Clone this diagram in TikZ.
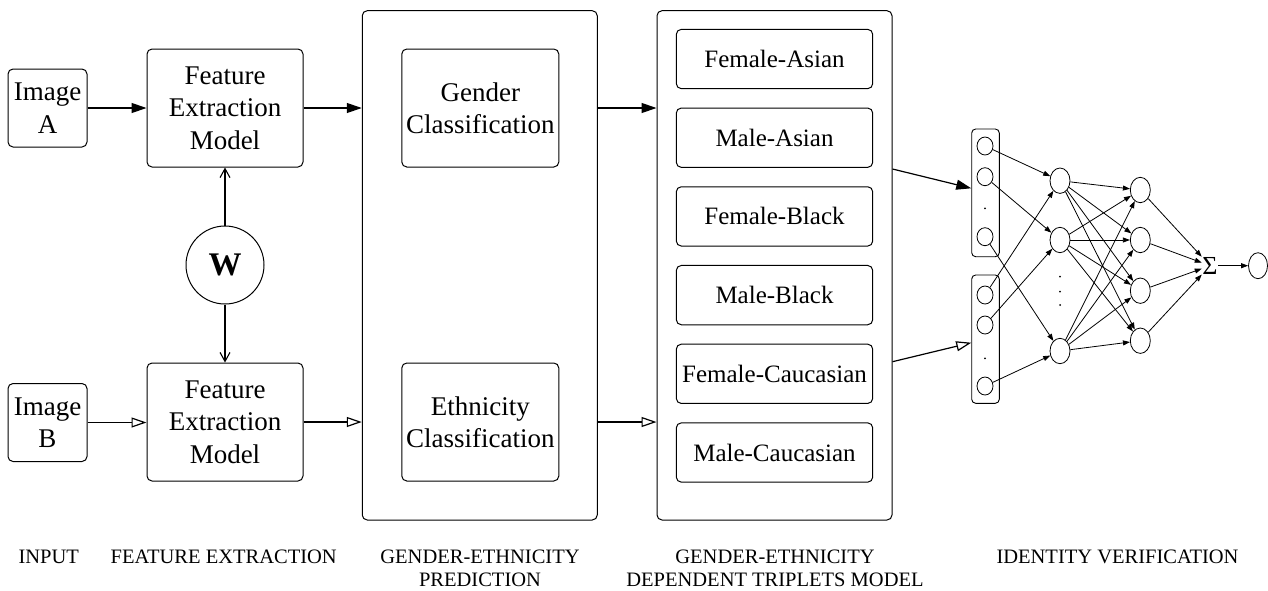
\documentclass[tikz,border=0pt]{standalone}
\usepackage{fontspec}
\setmainfont{Liberation Serif}
\usetikzlibrary{arrows.meta,shapes.geometric}
\begin{document}
\begin{tikzpicture}[x=1pt,y=-1pt,
  box/.style={draw,rounded corners=5pt,line width=1pt,inner sep=0pt,align=center,
    font=\fontsize{27}{32.4}\selectfont},
  bigbox/.style={draw,rounded corners=5pt,line width=1pt,inner sep=0pt,
    minimum width=235pt,minimum height=509.3pt},
  clsbox/.style={draw,rounded corners=5pt,line width=1pt,inner sep=0pt,
    minimum width=196.4pt,minimum height=59.3pt,font=\fontsize{25}{30}\selectfont},
  grpbox/.style={draw,rounded corners=4pt,line width=0.9pt,inner sep=0pt,minimum width=27.6pt},
  inp/.style={draw,ellipse,line width=0.8pt,inner sep=0pt,minimum width=16pt,minimum height=18pt},
  hid/.style={draw,ellipse,line width=0.8pt,inner sep=0pt,minimum width=20pt,minimum height=25.4pt},
  dotn/.style={fill,circle,inner sep=0pt,minimum size=2pt},
  steplabel/.style={anchor=north,inner sep=0pt,align=center,font=\fontsize{20.5}{23.4}\selectfont},
  fillarrow/.style={line width=1.2pt,-{Triangle[length=15pt,width=10pt]}},
  openarrow/.style={line width=1.2pt,-{Triangle[open,length=15pt,width=10pt,fill=white]}},
  barbarrow/.style={line width=1.1pt,-{Straight Barb[length=9pt,width=10pt]}},
  nnarrow/.style={line width=0.8pt,-{Triangle[length=7pt,width=5pt]}}
]
\useasboundingbox (0,0) rectangle (1268,590);

% input images
\node[box,minimum width=79pt,minimum height=78pt] (imgA) at (47.5,108) {Image\\A};
\node[box,minimum width=79pt,minimum height=78pt] (imgB) at (47.5,422.5) {Image\\B};

% feature extraction models
\node[box,minimum width=156pt,minimum height=118pt] (femA) at (225,108) {Feature\\Extraction\\Model};
\node[box,minimum width=156pt,minimum height=118pt] (femB) at (225,422) {Feature\\Extraction\\Model};
\node[draw,circle,line width=1pt,minimum size=78pt,inner sep=0pt,
  font=\fontsize{33}{36}\selectfont\bfseries] (W) at (225,265) {W};

% gender-ethnicity prediction
\node[bigbox] (pred) at (479.75,265.35) {};
\node[box,minimum width=157pt,minimum height=118pt] (gender) at (480.3,108) {Gender\\Classification};
\node[box,minimum width=157pt,minimum height=118pt] (ethnic) at (480.3,422) {Ethnicity\\Classification};

% triplet models
\node[bigbox] (trip) at (774.5,265.35) {};
\node[clsbox] (c1) at (774.5,59) {Female-Asian};
\node[clsbox] (c2) at (774.5,137.7) {Male-Asian};
\node[clsbox] (c3) at (774.5,216.4) {Female-Black};
\node[clsbox] (c4) at (774.5,295.1) {Male-Black};
\node[clsbox] (c5) at (774.5,373.8) {Female-Caucasian};
\node[clsbox] (c6) at (774.5,452.5) {Male-Caucasian};

% main arrows
\draw[fillarrow] (imgA.east) -- (femA.west |- imgA.east);
\draw[openarrow] (imgB.east) -- (femB.west |- imgB.east);
\draw[barbarrow] (W.north) -- (femA.south);
\draw[barbarrow] (W.south) -- (femB.north);
\draw[fillarrow] (femA.east) -- (pred.west |- femA.east);
\draw[openarrow] (femB.east) -- (pred.west |- femB.east);
\draw[fillarrow] (pred.east |- femA.east) -- (trip.west |- femA.east);
\draw[openarrow] (pred.east |- femB.east) -- (trip.west |- femB.east);

% identity verification network
\node[grpbox,minimum height=127.7pt] (g1) at (985.5,192.85) {};
\node[grpbox,minimum height=128.3pt] (g2) at (985.5,339.15) {};
\node[inp] (i1) at (985,146) {};
\node[inp] (i2) at (985,176.7) {};
\node[dotn] (d1) at (985,208.3) {};
\node[inp] (i3) at (985,236.7) {};
\node[inp] (i4) at (985,295) {};
\node[inp] (i5) at (985,325) {};
\node[dotn] (d2) at (985,358.3) {};
\node[inp] (i6) at (985,386) {};

\node[hid] (h1) at (1060,180.7) {};
\node[hid] (h2) at (1060,240) {};
\node[dotn] (d3) at (1060,276.7) {};
\node[dotn] (d4) at (1060,291.7) {};
\node[dotn] (d5) at (1060,305) {};
\node[hid] (h3) at (1060,351) {};

\node[hid] (k1) at (1140.3,190) {};
\node[hid] (k2) at (1140.3,240) {};
\node[hid] (k3) at (1140.3,290.7) {};
\node[hid] (k4) at (1140.3,340.7) {};

\node[inner sep=0.5pt,font=\fontsize{26}{26}\selectfont] (sig) at (1210,265.7) {Σ};
\node[hid,minimum height=26pt,minimum width=19pt] (out) at (1258,265.7) {};

\coordinate (t1s) at (0,169);
\coordinate (t1e) at (0,188.3);
\coordinate (t2s) at (0,361.7);
\coordinate (t2e) at (0,342.7);
\draw[fillarrow] (trip.east |- t1s) -- (g1.west |- t1e);
\draw[openarrow] (trip.east |- t2s) -- (g2.west |- t2e);

\draw[nnarrow] (i1) -- (h1);
\draw[nnarrow] (i2) -- (h2);
\draw[nnarrow] (i3) -- (h3);
\draw[nnarrow] (i4) -- (h1);
\draw[nnarrow] (i5) -- (h2);
\draw[nnarrow] (i6) -- (h3);
\foreach \a in {h1,h2,h3}
  \foreach \b in {k1,k2,k3,k4}
    \draw[nnarrow] (\a) -- (\b);
\foreach \b in {k1,k2,k3,k4}
  \draw[nnarrow] (\b) -- (sig);
\draw[nnarrow] (sig) -- (out);

% step labels
\node[steplabel] (l1) at (48.7,549.7) {INPUT};
\node[steplabel] (l2) at (223.7,549.7) {FEATURE EXTRACTION};
\node[steplabel] (l3) at (480,549.7) {GENDER-ETHNICITY\\PREDICTION};
\node[steplabel] (l4) at (775,549.7) {GENDER-ETHNICITY\\DEPENDENT TRIPLETS MODEL};
\node[steplabel] (l5) at (1117.5,549.7) {IDENTITY VERIFICATION};
\end{tikzpicture}
\end{document}
